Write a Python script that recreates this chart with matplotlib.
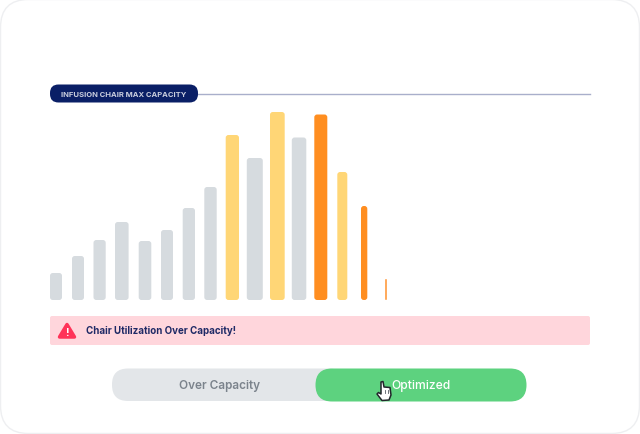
import matplotlib
matplotlib.use('Agg')
import matplotlib.pyplot as plt
from matplotlib.patches import FancyBboxPatch, Polygon

plt.rcParams['font.family'] = ['Inter', 'DejaVu Sans']

GREY = '#d6dbdf'
YELLOW = '#ffd676'
ORANGE = '#ff8e20'
LIGHT_ORANGE = '#ffab5e'

# bar heights
heights = [27, 44, 60, 78, 59, 70, 92, 113, 165, 142, 188, 162.5, 185.5, 128, 94, 21]
bar_colors = [GREY] * 8 + [YELLOW, GREY, YELLOW, GREY, ORANGE, YELLOW, ORANGE, LIGHT_ORANGE]
bar_left = [50, 72, 93.5, 115, 138.7, 161, 182.7, 204.3, 225.7, 246.8, 270, 291.8, 314.3, 337.3, 361, 385]
bar_width = [12, 12, 12.2, 13.6, 12.6, 12, 12.3, 12.4, 13.3, 16, 14.7, 14.5, 13, 10, 6.3, 2]
baseline = 300

title = 'INFUSION CHAIR MAX CAPACITY'
alert = 'Chair Utilization Over Capacity!'
toggle_off = 'Over Capacity'
toggle_on = 'Optimized'


def rbox(ax, x0, y0, x1, y1, r, color, z=2, ec='none', lw=0):
    p = FancyBboxPatch((x0 + r, y0 + r), x1 - x0 - 2*r, y1 - y0 - 2*r,
                       boxstyle='round,pad=%f,rounding_size=%f' % (r, r),
                       fc=color, ec=ec, lw=lw, zorder=z)
    ax.add_patch(p)


fig = plt.figure(figsize=(6.4, 4.35), dpi=100)
ax = fig.add_axes([0, 0, 1, 1])
ax.set_xlim(0, 640)
ax.set_ylim(434, -1)
ax.axis('off')

# card
rbox(ax, 0.5, -0.5, 639.5, 433.5, 28, 'white', z=1, ec='#eeeff1', lw=1)

# header
ax.plot([195, 590], [94, 94], color='#a9afcb', lw=1, zorder=2)
rbox(ax, 50, 84.5, 198, 102.5, 8.5, '#0a1f66', z=3)
ax.text(124, 94, title, color='#c9cede', fontsize=5.5, fontweight='bold',
        ha='center', va='center', zorder=4)

# bars
for left, w, h, c in zip(bar_left, bar_width, heights, bar_colors):
    r = min(2.8, w/2 - 0.01)
    rbox(ax, left, baseline - h, left + w, baseline, r, c)

# alert strip
rbox(ax, 50, 316, 590, 345, 2, '#ffd6dc')
ax.add_patch(Polygon([[67, 324.5], [74.5, 337], [59.5, 337]], closed=True, fc='#ff3358', ec='#ff3358',
                     lw=2.5, joinstyle='round', zorder=3))
ax.text(67, 332.5, '!', color='white', fontsize=7.5, fontweight='bold', ha='center', va='center', zorder=4)
ax.text(85.5, 330.5, alert, color='#1f2a66', fontsize=7.0, fontweight='bold', va='center', zorder=4)

# toggle
rbox(ax, 112, 368.5, 345, 401, 16, '#e3e6e9')
rbox(ax, 315.5, 368.5, 526.5, 401.5, 16.5, '#5dd27f', z=3)
ax.text(219.5, 385, toggle_off, color='#7b838c', fontsize=8.5, fontweight='semibold',
        ha='center', va='center', zorder=4)
ax.text(421, 385, toggle_on, color='white', fontsize=8.7, fontweight='medium',
        ha='center', va='center', zorder=4)

# hand cursor
hand = [[381, 382], [383, 381.5], [384, 387], [390, 387.5], [391, 395], [389, 400], [382, 400.5],
        [377, 394], [378.5, 392.5], [381, 394]]
ax.add_patch(Polygon(hand, closed=True, fc='white', ec='#22262b', lw=1.1, joinstyle='round', zorder=5))
ax.plot([385, 385], [390, 393], color='#555b62', lw=0.6, zorder=6)
ax.plot([387.5, 387.5], [390, 393], color='#555b62', lw=0.6, zorder=6)

fig.savefig('out.png', dpi=100)
